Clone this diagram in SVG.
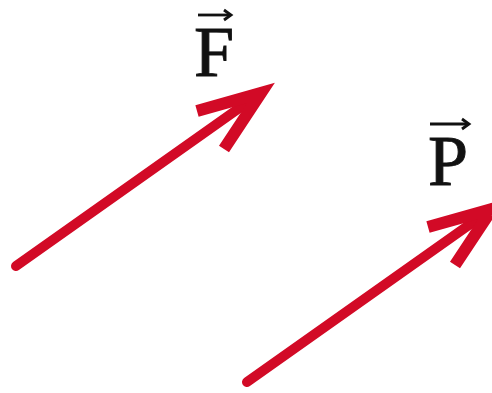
<svg xmlns="http://www.w3.org/2000/svg" width="492" height="393" viewBox="0 0 492 393">
<defs>
<style>
.vec{fill:none;stroke:#d20a26;stroke-width:10;stroke-linecap:round;stroke-linejoin:miter;stroke-miterlimit:10}
.head{stroke-width:12;stroke-linecap:butt}
.lbl{font-family:"Liberation Serif","Times New Roman",serif;font-size:72px;fill:#111;stroke:#111;stroke-width:0.9}
.ovr{fill:none;stroke:#111;stroke-width:2.8;stroke-linecap:butt}
</style>
<g id="arrowShape">
<path class="vec" d="M16 266 L262 92"/>
<path class="vec head" d="M197 111 L261 93 L224 149"/>
</g>
</defs>
<g id="connectors">
<use href="#arrowShape"/>
<use href="#arrowShape" transform="translate(231 116)"/>
</g>
<g id="labelF">
<text class="lbl" x="194" y="76">F</text>
<path class="ovr" d="M198 15 L230 15"/>
<path class="ovr" d="M224 10 L231 15 L224 20"/>
</g>
<g id="labelP">
<text class="lbl" x="428" y="185">P</text>
<path class="ovr" d="M430 124 L468 124"/>
<path class="ovr" d="M462 119 L469 124 L462 129"/>
</g>
</svg>
